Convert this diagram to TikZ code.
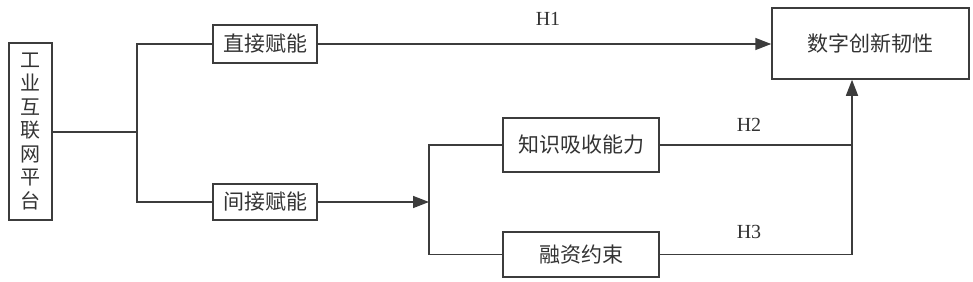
\documentclass[tikz,border=0pt]{standalone}
\usepackage{fontspec}
\setmainfont{Liberation Serif}
\newfontfamily\cjk{Noto Sans CJK SC}
\usetikzlibrary{arrows.meta}
\definecolor{ln}{HTML}{3C3C3C}
\definecolor{tx}{HTML}{333333}
\tikzset{
  box/.style={draw=ln, line width=1.5pt, inner sep=0pt, text=tx, font=\cjk\fontsize{21}{24}\selectfont},
  conn/.style={draw=ln, line width=1.5pt},
  arr/.style={conn, -{Triangle[length=16pt,width=12pt]}},
  hlab/.style={text=tx, font=\fontsize{20}{22}\selectfont}
}
\begin{document}
\begin{tikzpicture}[x=1pt,y=-1pt]
\useasboundingbox (0,0) rectangle (973,281);
\node[box, minimum width=43pt, minimum height=177pt, align=center, font=\cjk\fontsize{20}{23.5}\selectfont] (L) at (30.5,131.5) {工\\业\\互\\联\\网\\平\\台};
\node[box, minimum width=104pt, minimum height=38pt] (d) at (265,44) {直接赋能};
\node[box, minimum width=104pt, minimum height=36pt] (i) at (265,202) {间接赋能};
\node[box, minimum width=197pt, minimum height=71pt] (t) at (870.5,43.5) {数字创新韧性};
\node[box, minimum width=156pt, minimum height=54pt] (k) at (581,145) {知识吸收能力};
\node[box, minimum width=156pt, minimum height=45pt] (r) at (581,254.5) {融资约束};
\coordinate (j1) at (137,132);
\coordinate (j2) at (429,202);
\coordinate (j3) at (852,254.5);
\draw[conn] (L.east |- j1) -- (j1);
\draw[conn] (d.west) -| (j1) |- (i.west);
\draw[arr] (d.east) -- (d.east -| t.west);
\draw[arr] (i.east) -- (j2);
\draw[conn] (k.west) -| (j2) |- (r.west);
\draw[conn] (k.east) -- (k.east -| j3);
\draw[arr] (r.east) -| (j3 |- t.south);
\node[hlab] (h1) at (548,19) {H1};
\node[hlab] (h2) at (749,125) {H2};
\node[hlab] (h3) at (749,232) {H3};
\end{tikzpicture}
\end{document}
